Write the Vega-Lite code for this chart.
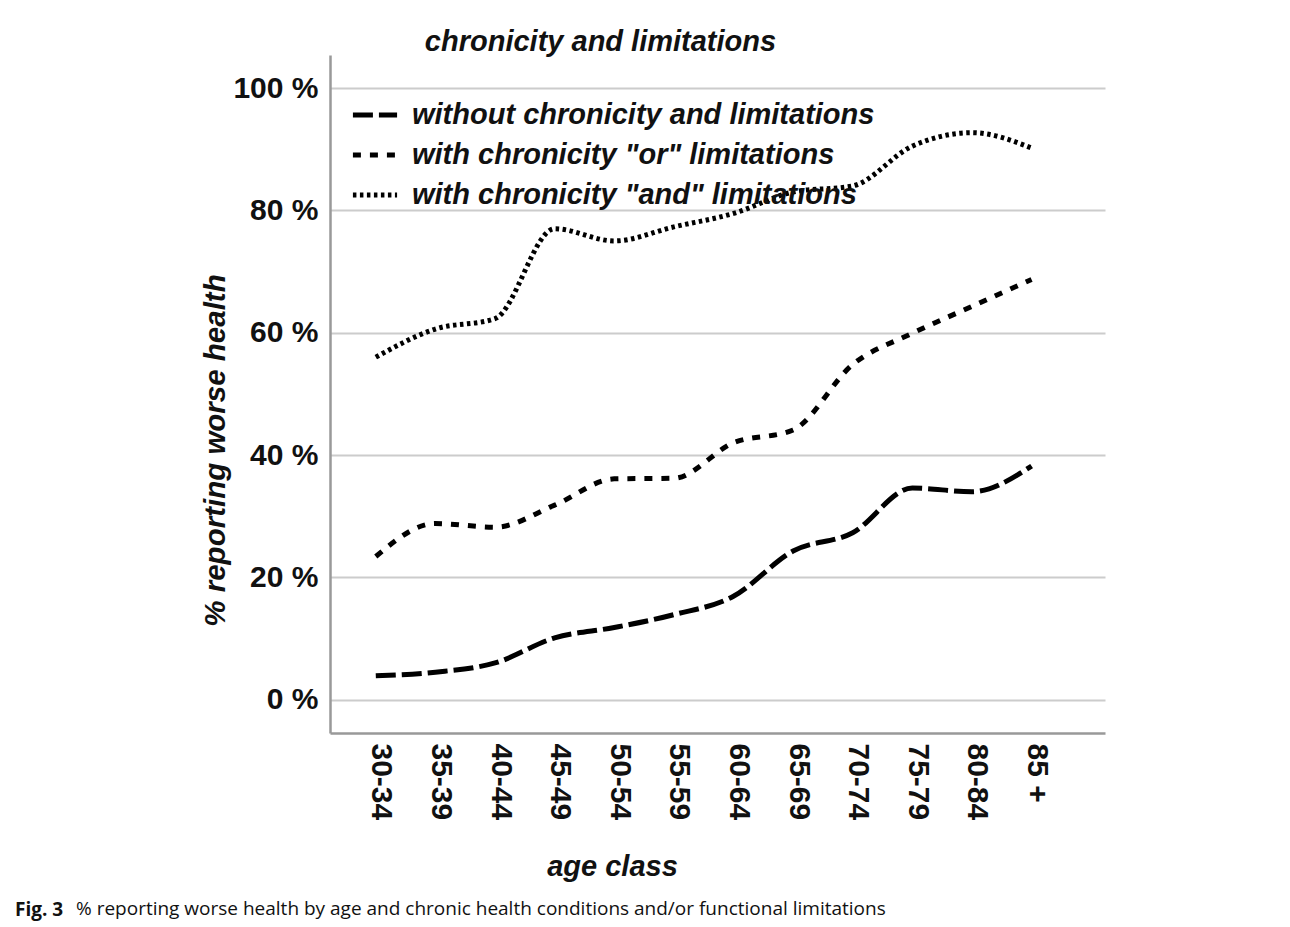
{
  "$schema": "https://vega.github.io/schema/vega-lite/v6.json",
  "background": "white",
  "padding": {"left": 15, "top": 28, "right": 180, "bottom": 4},
  "title": {
    "text": "% reporting worse health by age and chronic health conditions and/or functional limitations",
    "orient": "bottom",
    "anchor": "start",
    "frame": "bounds",
    "dx": 61,
    "offset": -20,
    "font": "Open Sans",
    "fontSize": 19,
    "fontWeight": "normal",
    "color": "#111111"
  },
  "vconcat": [
    {
      "title": {
        "text": "Fig. 3",
        "orient": "bottom",
        "anchor": "start",
        "frame": "bounds",
        "dx": -185,
        "offset": 20,
        "font": "Open Sans",
        "fontSize": 19,
        "fontWeight": "bold",
        "color": "#111111"
      },
      "vconcat": [
        {
          "title": {
            "text": "chronicity and limitations",
            "anchor": "middle",
            "dx": -117,
            "offset": -2,
            "font": "Liberation Sans",
            "fontSize": 29,
            "fontStyle": "italic",
            "fontWeight": "bold",
            "color": "#111111"
          },
          "width": 775,
          "height": 678,
          "data": {
            "values": [
              {"age": "30-34", "group": "without chronicity and limitations", "pct": 3.9},
              {"age": "35-39", "group": "without chronicity and limitations", "pct": 4.5},
              {"age": "40-44", "group": "without chronicity and limitations", "pct": 6.0},
              {"age": "45-49", "group": "without chronicity and limitations", "pct": 10.1},
              {"age": "50-54", "group": "without chronicity and limitations", "pct": 11.8},
              {"age": "55-59", "group": "without chronicity and limitations", "pct": 13.9},
              {"age": "60-64", "group": "without chronicity and limitations", "pct": 16.9},
              {"age": "65-69", "group": "without chronicity and limitations", "pct": 24.3},
              {"age": "70-74", "group": "without chronicity and limitations", "pct": 27.3},
              {"age": "75-79", "group": "without chronicity and limitations", "pct": 34.6},
              {"age": "80-84", "group": "without chronicity and limitations", "pct": 34.0},
              {"age": "85 +", "group": "without chronicity and limitations", "pct": 38.2},
              {"age": "30-34", "group": "with chronicity \"or\" limitations", "pct": 23.4},
              {"age": "35-39", "group": "with chronicity \"or\" limitations", "pct": 28.8},
              {"age": "40-44", "group": "with chronicity \"or\" limitations", "pct": 28.2},
              {"age": "45-49", "group": "with chronicity \"or\" limitations", "pct": 31.8},
              {"age": "50-54", "group": "with chronicity \"or\" limitations", "pct": 36.1},
              {"age": "55-59", "group": "with chronicity \"or\" limitations", "pct": 36.2},
              {"age": "60-64", "group": "with chronicity \"or\" limitations", "pct": 42.0},
              {"age": "65-69", "group": "with chronicity \"or\" limitations", "pct": 44.1},
              {"age": "70-74", "group": "with chronicity \"or\" limitations", "pct": 54.8},
              {"age": "75-79", "group": "with chronicity \"or\" limitations", "pct": 59.9},
              {"age": "80-84", "group": "with chronicity \"or\" limitations", "pct": 64.3},
              {"age": "85 +", "group": "with chronicity \"or\" limitations", "pct": 68.7},
              {"age": "30-34", "group": "with chronicity \"and\" limitations", "pct": 56.0},
              {"age": "35-39", "group": "with chronicity \"and\" limitations", "pct": 60.6},
              {"age": "40-44", "group": "with chronicity \"and\" limitations", "pct": 62.3},
              {"age": "45-49", "group": "with chronicity \"and\" limitations", "pct": 77.0},
              {"age": "50-54", "group": "with chronicity \"and\" limitations", "pct": 75.0},
              {"age": "55-59", "group": "with chronicity \"and\" limitations", "pct": 77.3},
              {"age": "60-64", "group": "with chronicity \"and\" limitations", "pct": 79.5},
              {"age": "65-69", "group": "with chronicity \"and\" limitations", "pct": 83.0},
              {"age": "70-74", "group": "with chronicity \"and\" limitations", "pct": 84.0},
              {"age": "75-79", "group": "with chronicity \"and\" limitations", "pct": 90.5},
              {"age": "80-84", "group": "with chronicity \"and\" limitations", "pct": 92.7},
              {"age": "85 +", "group": "with chronicity \"and\" limitations", "pct": 90.2}
            ]
          },
          "mark": {"type": "line", "interpolate": "monotone", "color": "black", "strokeWidth": 5, "strokeCap": "butt"},
          "encoding": {
            "x": {
              "field": "age",
              "type": "ordinal",
              "sort": ["30-34", "35-39", "40-44", "45-49", "50-54", "55-59", "60-64", "65-69", "70-74", "75-79", "80-84", "85 +"],
              "scale": {"type": "point", "padding": 1.056, "align": 0.384},
              "axis": {
                "title": "age class",
                "titleX": 282,
                "titleY": 133,
                "titleBaseline": "middle",
                "titleAlign": "center",
                "titleFont": "Liberation Sans",
                "titleFontSize": 29,
                "titleFontStyle": "italic",
                "titleFontWeight": "bold",
                "titleColor": "#111111",
                "labelAngle": 90,
                "labelAlign": "left",
                "labelBaseline": "middle",
                "labelFont": "Liberation Sans",
                "labelFontSize": 30,
                "labelFontWeight": "bold",
                "labelColor": "#111111",
                "labelPadding": 10,
                "labelOffset": 5,
                "ticks": false,
                "grid": false,
                "domainColor": "#999999",
                "domainWidth": 2.5
              }
            },
            "y": {
              "field": "pct",
              "type": "quantitative",
              "scale": {"domain": [-5.45, 105.4], "nice": false, "zero": false},
              "axis": {
                "values": [0, 20, 40, 60, 80, 100],
                "labelExpr": "datum.value + ' %'",
                "title": "% reporting worse health",
                "titleX": -115,
                "titleY": 395,
                "titleAngle": -90,
                "titleAlign": "center",
                "titleBaseline": "middle",
                "titleFont": "Liberation Sans",
                "titleFontSize": 29.5,
                "titleFontStyle": "italic",
                "titleFontWeight": "bold",
                "titleColor": "#111111",
                "labelFont": "Liberation Sans",
                "labelFontSize": 30,
                "labelFontWeight": "bold",
                "labelColor": "#111111",
                "labelPadding": 12,
                "ticks": false,
                "grid": true,
                "gridColor": "#cccccc",
                "gridWidth": 2,
                "domainColor": "#999999",
                "domainWidth": 2.5
              }
            },
            "strokeDash": {
              "field": "group",
              "type": "nominal",
              "scale": {
                "domain": ["without chronicity and limitations", "with chronicity \"or\" limitations", "with chronicity \"and\" limitations"],
                "range": [[20, 6], [8, 9], [3.5, 3.5]]
              },
              "legend": {
                "title": null,
                "orient": "none",
                "legendX": 20,
                "legendY": 35,
                "symbolType": "stroke",
                "symbolSize": 1950,
                "symbolStrokeWidth": 5,
                "symbolStrokeColor": "black",
                "labelFont": "Liberation Sans",
                "labelFontSize": 29,
                "labelFontStyle": "italic",
                "labelFontWeight": "bold",
                "labelColor": "#111111",
                "labelLimit": 700,
                "labelOffset": 12,
                "rowPadding": 0
              }
            }
          }
        }
      ]
    }
  ],
  "config": {
    "view": {"stroke": null},
    "font": "Liberation Sans"
  }
}
